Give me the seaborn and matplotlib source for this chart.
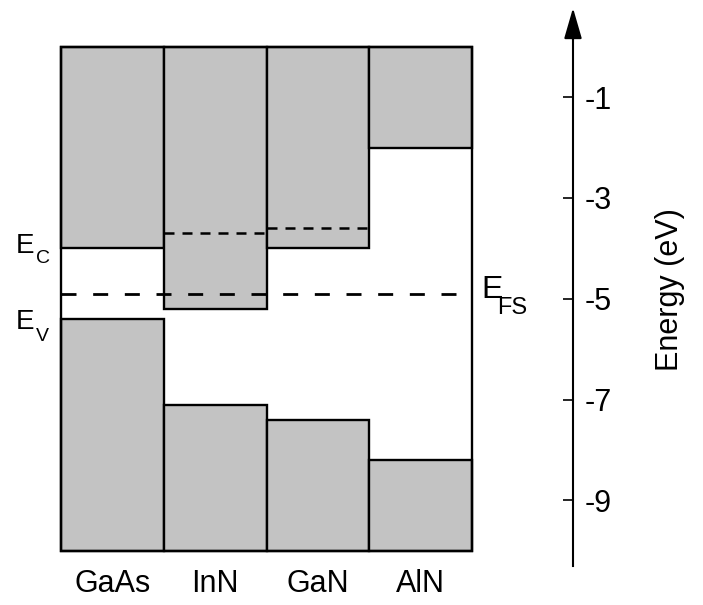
import numpy as np
import matplotlib
matplotlib.use("Agg")
import matplotlib.pyplot as plt
from matplotlib.patches import Rectangle
import seaborn as sns

# band edges (eV, relative to vacuum level)
materials = ['GaAs', 'InN', 'GaN', 'AlN']
ec = [-4.0, -5.2, -4.0, -2.0]
ev = [-5.4, -7.1, -7.4, -8.2]
# older conduction band values shown dotted for InN and GaN
ec_old_mat = ['InN', 'GaN']
ec_old = [-3.7, -3.6]
efs = -4.9
e_bottom = -10.0
energy_ticks = [-1, -3, -5, -7, -9]

sns.set_style('white')
plt.rcParams['font.family'] = ['Liberation Sans', 'DejaVu Sans']
plt.rcParams['axes.unicode_minus'] = False
plt.rcParams['text.color'] = 'black'

W, H = 703, 605
fig = plt.figure(figsize=(W / 100, H / 100), dpi=100)
ax = fig.add_axes([0, 0, 1, 1])

# pixel -> data helpers for layout
colw, x0 = 102.75, 61
ppe, y0 = 50.4, 46.7
def px_x(p):
    return -0.5 + (p - x0) / colw
def px_y(p):
    return -(p - y0) / ppe

gray = '#c3c3c3'
# conduction band: from vacuum (0) down to Ec
sns.barplot(x=materials, y=ec, width=1, color=gray, saturation=1,
            edgecolor='black', linewidth=1.7, ax=ax, zorder=2)
# valence band: from bottom up to Ev
pos = np.arange(len(materials))
ax.bar(pos, np.array(ev) - e_bottom, bottom=e_bottom, width=1, color=gray,
       edgecolor='black', linewidth=1.7, zorder=2)

# outer frame
ax.add_patch(Rectangle((-0.5, e_bottom), len(materials), -e_bottom, fill=False,
                       edgecolor='black', linewidth=1.7, zorder=3))

# Fermi stabilization level
ax.plot([-0.5, len(materials) - 0.5], [efs, efs], color='black', lw=2,
        ls=(0, (5.4, 6)), zorder=4)
# dotted conduction edges
for m, e in zip(ec_old_mat, ec_old):
    i = materials.index(m)
    ax.plot([i - 0.5, i + 0.5], [e, e], color='black', lw=1.8,
            ls=(0, (4, 3.2)), zorder=4)

# energy axis on the right
xa = px_x(573)
for s in ['left', 'top', 'bottom']:
    ax.spines[s].set_visible(False)
ax.spines['right'].set_position(('data', xa))
ax.spines['right'].set_bounds(px_y(566), px_y(30))
ax.spines['right'].set_linewidth(1.5)
ax.spines['right'].set_color('black')
ax.yaxis.tick_right()
ax.set_yticks(energy_ticks)
ax.set_yticklabels([str(t) for t in energy_ticks])
ax.tick_params(axis='y', direction='in', length=7.2, width=1.2, pad=8.5,
               labelsize=22, colors='black')
ax.set_xticks([])
ax.set_xlabel('')
ax.set_ylabel('')
ax.annotate('', xy=(xa, px_y(8)), xytext=(xa, px_y(40)),
            arrowprops=dict(arrowstyle='-|>,head_length=19,head_width=5.5',
                            mutation_scale=1, color='black', lw=1.5,
                            shrinkA=0, shrinkB=0))

ax.text(px_x(670), px_y(290), 'Energy (eV)', rotation=90, ha='center',
        va='center', fontsize=22)

for i, m in enumerate(materials):
    ax.text(i, px_y(592), m, ha='center', va='baseline', fontsize=22)

# band edge labels with hand-placed subscripts
ax.text(px_x(16), px_y(253), 'E', ha='left', va='baseline', fontsize=20)
ax.text(px_x(36), px_y(263), 'C', ha='left', va='baseline', fontsize=14)
ax.text(px_x(16), px_y(329), 'E', ha='left', va='baseline', fontsize=20)
ax.text(px_x(36), px_y(341), 'V', ha='left', va='baseline', fontsize=14)
ax.text(px_x(481), px_y(298), 'E', ha='left', va='baseline', fontsize=23)
ax.text(px_x(497), px_y(314), 'FS', ha='left', va='baseline', fontsize=17)

ax.set_xlim(px_x(0), px_x(W))
ax.set_ylim(px_y(H), px_y(0))

fig.savefig('out.png', dpi=100)
